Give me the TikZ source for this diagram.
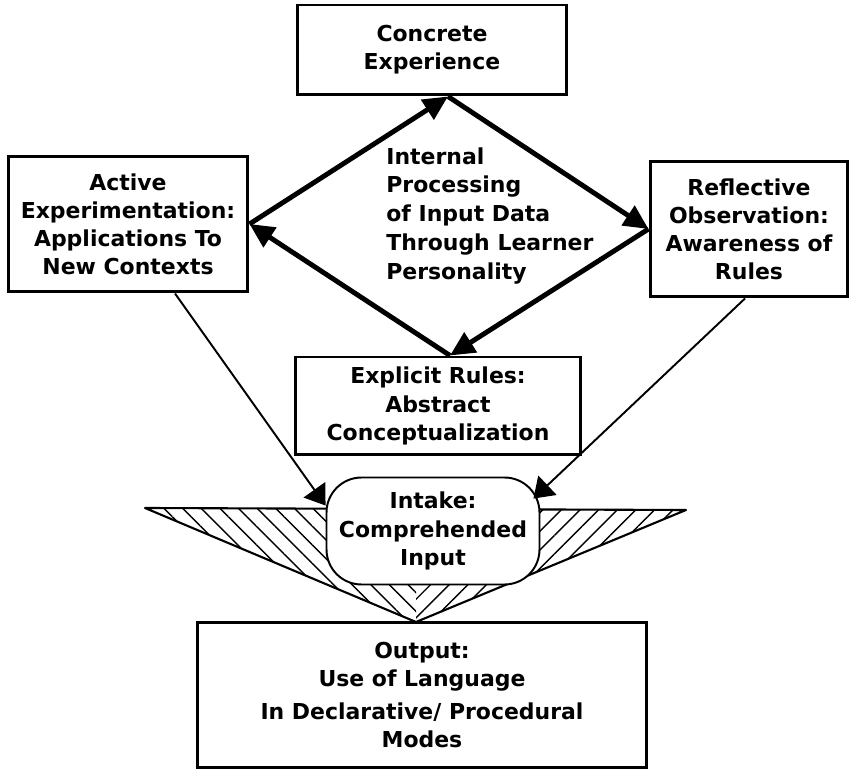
\documentclass[tikz,border=0pt]{standalone}
\usepackage{fontspec}
\setmainfont{DejaVu Sans}
\usetikzlibrary{arrows.meta,patterns.meta}

\begin{document}
\begin{tikzpicture}[x=0.02cm,y=-0.02cm,
    font=\bfseries\fontsize{12.5}{16}\selectfont,
    box/.style={draw,line width=1.7pt,align=center,inner sep=0pt},
    cycle/.style={line width=2.8pt,-{Triangle[length=14pt,width=13pt]}},
    feed/.style={line width=1.1pt,-{Triangle[length=11pt,width=15pt]}},
    hatchL/.style={pattern={Lines[angle=-45,distance=7.5pt,line width=0.8pt]}},
    hatchR/.style={pattern={Lines[angle=45,distance=7.5pt,line width=0.8pt]}}]

  \useasboundingbox (0,0) rectangle (853,773);

  % --- the four stages of the cycle
  \node[box,minimum width=5.4cm,minimum height=1.8cm] (concrete) at (432,50)
       {Concrete\\Experience};
  \node[box,minimum width=4.8cm,minimum height=2.72cm] (active) at (128,224)
       {Active\\Experimentation:\\Applications To\\New Contexts};
  \node[box,minimum width=3.96cm,minimum height=2.72cm] (reflective) at (749,229)
       {Reflective\\Observation:\\Awareness of\\Rules};
  \node[box,minimum width=5.72cm,minimum height=1.96cm] (explicit) at (438,406)
       {Explicit Rules:\\Abstract\\Conceptualization};
  \node[align=left,anchor=north west,inner sep=0pt,font=\bfseries\fontsize{12.5}{16.4}\selectfont] (internal) at (386,147)
       {Internal\\Processing\\of Input Data\\Through Learner\\Personality};

  % --- the funnel
  \coordinate (funL) at (145,508);
  \coordinate (funR) at (686,510);
  \coordinate (funA) at (416,622);
  \coordinate (funM) at (416,509);
  \fill[hatchL] (funL) -- (funM) -- (funA) -- cycle;
  \fill[hatchR] (funR) -- (funM) -- (funA) -- cycle;
  \draw[line width=1.2pt,line join=round] (funL) -- (funR) -- (funA) -- cycle;

  \node[draw,fill=white,line width=1.1pt,rounded corners=0.7cm,align=center,inner sep=0pt,
        minimum width=4.26cm,minimum height=2.14cm] (intake) at (433,531)
       {Intake:\\Comprehended\\Input};
  \node[box,minimum width=8.98cm,minimum height=2.92cm] (output) at (422,695)
       {Output:\\Use of Language\\[3pt]In Declarative/ Procedural\\Modes};

  % --- cycle arrows
  \draw[cycle] (active.east) -- ([xshift=0.32cm]concrete.south);
  \draw[cycle] ([xshift=0.32cm]concrete.south) -- (reflective.west);
  \draw[cycle] (reflective.west) -- ([xshift=0.24cm]explicit.north);
  \draw[cycle] ([xshift=0.24cm]explicit.north) -- (active.east);

  % --- into intake
  \draw[feed] ([xshift=0.94cm]active.south) -- ([yshift=-0.58cm]intake.north west);
  \draw[feed] ([xshift=-0.08cm]reflective.south) -- ([xshift=-0.14cm,yshift=-0.44cm]intake.north east);
\end{tikzpicture}
\end{document}
